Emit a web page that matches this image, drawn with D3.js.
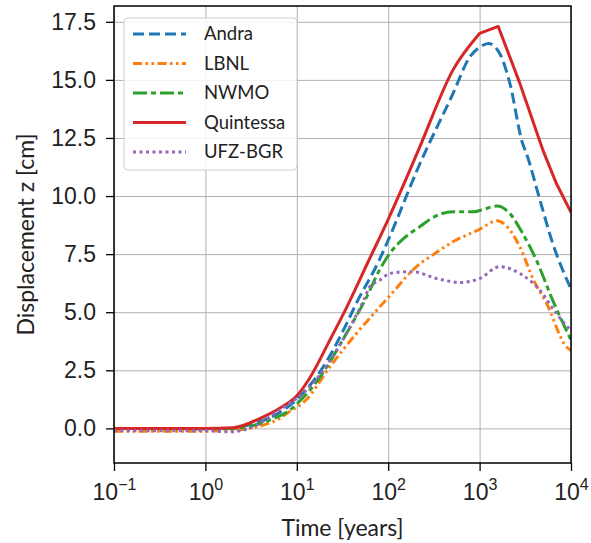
<!DOCTYPE html>
<html>
<head>
<meta charset="utf-8">
<script src="https://cdn.jsdelivr.net/npm/d3@7"></script>
<style>
  body { margin: 0; background: #fff; }
  svg { font-family: Lato, "Open Sans", sans-serif; }
  .grid line { stroke: #b0b0b0; stroke-width: 1; }
  .grid path { display: none; }
  .axis path, .axis line { stroke: #000; stroke-width: 1.3; }
  .axis text { font-size: 23px; fill: #222; }
</style>
</head>
<body>
<div id="chart"></div>
<script>
// [time in years, displacement z in cm]
let andra = [[0.1,0],[1,-0.02],[2,0],[3,0.15],[5,0.45],[10,1.25],[19.5,2.65],[35,4.5],[45,5.4],[80,7.25],[100,8.1],[215,11.26],[510,14.4],[785,16.0],[1000,16.4],[1245,16.57],[1660,16.14],[2140,14.86],[2950,12.27],[3240,11.85],[4570,9.83],[6300,7.97],[10000,6.0]];
let lbnl = [[0.1,-0.12],[1,-0.12],[2,-0.08],[4.3,0.14],[6.5,0.43],[7.8,0.65],[12.6,1.22],[23,2.65],[45,4.09],[81,5.23],[115,5.9],[160,6.55],[224,7.1],[288,7.39],[510,8.03],[1000,8.57],[1550,8.94],[2000,8.68],[2750,7.82],[3900,6.38],[5400,5.38],[8900,3.51],[10000,3.35]];
let nwmo = [[0.1,0],[1,-0.02],[2,0],[5,0.35],[8.4,0.79],[10,1.05],[18,2.22],[35,4.09],[58,5.65],[80,6.8],[105,7.55],[150,8.2],[225,8.7],[300,9.05],[510,9.32],[850,9.32],[1050,9.4],[1550,9.57],[2140,9.25],[2950,8.4],[4170,7.25],[6300,5.52],[10000,3.8]];
let quintessa = [[0.1,0],[1,0],[2,0.03],[4.3,0.5],[6.5,0.87],[10,1.4],[13.8,2.16],[23,3.8],[35,5.2],[60,7.15],[100,9.0],[210,11.9],[230,12.27],[510,15.42],[1000,17.0],[1600,17.3],[2750,14.86],[4900,12.0],[6900,10.55],[10000,9.3]];
let ufzbgr = [[0.1,-0.1],[1,-0.1],[1.9,-0.15],[3,0],[6.5,0.79],[15,1.94],[35,4.09],[54,5.52],[63,6.1],[81,6.38],[105,6.67],[160,6.74],[186,6.74],[340,6.45],[620,6.28],[1000,6.45],[1660,6.96],[2750,6.67],[4570,5.95],[6900,4.95],[10000,4.2]];

let seriesNames = ["Andra", "LBNL", "NWMO", "Quintessa", "UFZ-BGR"];
let seriesData = [andra, lbnl, nwmo, quintessa, ufzbgr];

let xTicks = [0.1, 1, 10, 100, 1000, 10000];
let xTickExp = ["\u22121", "0", "1", "2", "3", "4"];
let yTicks = [0, 2.5, 5, 7.5, 10, 12.5, 15, 17.5];

// splitAt: smooth up to this time, straight segments after it
let styles = {
  "Andra":     { color: "#1f77b4", dash: "11,5" },
  "LBNL":      { color: "#ff7f0e", dash: "9,3.5,2.5,3.5,2.5,3.5" },
  "NWMO":      { color: "#2ca02c", dash: "14,4,5,4" },
  "Quintessa": { color: "#d62728", dash: null, splitAt: 1000 },
  "UFZ-BGR":   { color: "#9467bd", dash: "3,3.5" }
};

let margin = { top: 6, right: 20, bottom: 80, left: 114 };
let W = 591, H = 543;
let width = W - margin.left - margin.right;
let height = H - margin.top - margin.bottom;

let svg = d3.select("#chart").append("svg")
    .attr("width", W)
    .attr("height", H);

let g = svg.append("g")
    .attr("transform", "translate(" + margin.left + "," + margin.top + ")");

let x = d3.scaleLog().domain([0.1, 10000]).range([0, width]);
let y = d3.scaleLinear().domain([-1.49, 18.18]).range([height, 0]);

// grid
g.append("g")
    .attr("class", "grid")
    .attr("transform", "translate(0," + height + ")")
    .call(d3.axisBottom(x).tickValues(xTicks).tickSize(-height).tickFormat(""));
g.append("g")
    .attr("class", "grid")
    .call(d3.axisLeft(y).tickValues(yTicks).tickSize(-width).tickFormat(""));

g.append("clipPath").attr("id", "clip")
    .append("rect").attr("width", width).attr("height", height);

let lines = g.append("g").attr("clip-path", "url(#clip)");

let smooth = d3.line()
    .curve(d3.curveMonotoneX)
    .x(function(p) { return x(p[0]); })
    .y(function(p) { return y(p[1]); });
let straight = d3.line()
    .x(function(p) { return x(p[0]); })
    .y(function(p) { return y(p[1]); });

seriesData.forEach(function(d, i) {
    let st = styles[seriesNames[i]];
    let path;
    if (st.splitAt) {
        let a = d.filter(function(p) { return p[0] <= st.splitAt; });
        let b = d.filter(function(p) { return p[0] >= st.splitAt; });
        path = smooth(a) + straight(b).replace(/^M/, "L");
    } else {
        path = smooth(d);
    }
    lines.append("path")
        .attr("d", path)
        .attr("fill", "none")
        .attr("stroke", st.color)
        .attr("stroke-width", 3)
        .attr("stroke-dasharray", st.dash)
        .attr("stroke-linejoin", "round");
});

// frame
g.append("rect")
    .attr("width", width).attr("height", height)
    .attr("fill", "none").attr("stroke", "#000").attr("stroke-width", 1.5);

// axes
let xAxis = g.append("g")
    .attr("class", "axis")
    .attr("transform", "translate(0," + height + ")")
    .call(d3.axisBottom(x).tickValues(xTicks).tickSize(8).tickPadding(10).tickFormat(""));
xAxis.select(".domain").remove();
xAxis.selectAll(".tick").each(function(d, i) {
    let t = d3.select(this).append("text")
        .attr("y", 37)
        .attr("text-anchor", "middle")
        .attr("fill", "#222");
    t.append("tspan").text("10");
    t.append("tspan").attr("dy", -10).attr("font-size", 16).text(xTickExp[i]);
});

let yAxis = g.append("g")
    .attr("class", "axis")
    .call(d3.axisLeft(y).tickValues(yTicks).tickSize(8).tickPadding(10).tickFormat(d3.format(".1f")));
yAxis.select(".domain").remove();

// axis labels
svg.append("text")
    .attr("x", margin.left + width / 2)
    .attr("y", 536)
    .attr("text-anchor", "middle")
    .attr("font-size", 23)
    .attr("fill", "#222")
    .text("Time [years]");
svg.append("text")
    .attr("transform", "translate(34," + (margin.top + height / 2) + ") rotate(-90)")
    .attr("text-anchor", "middle")
    .attr("font-size", 23)
    .attr("fill", "#222")
    .text("Displacement z [cm]");

// legend
let legend = svg.append("g").attr("transform", "translate(124,18)");
legend.append("rect")
    .attr("width", 173).attr("height", 152)
    .attr("rx", 4)
    .attr("fill", "#fff").attr("fill-opacity", 0.85)
    .attr("stroke", "#d0d0d0");
seriesNames.forEach(function(name, i) {
    let st = styles[name];
    let row = legend.append("g").attr("transform", "translate(0," + (16 + i * 29.5) + ")");
    row.append("line")
        .attr("x1", 9).attr("x2", 62)
        .attr("stroke", st.color).attr("stroke-width", 3)
        .attr("stroke-dasharray", st.dash);
    row.append("text")
        .attr("x", 80).attr("dy", "0.35em")
        .attr("font-size", 18.5)
        .attr("fill", "#222")
        .text(name);
});
</script>
</body>
</html>
